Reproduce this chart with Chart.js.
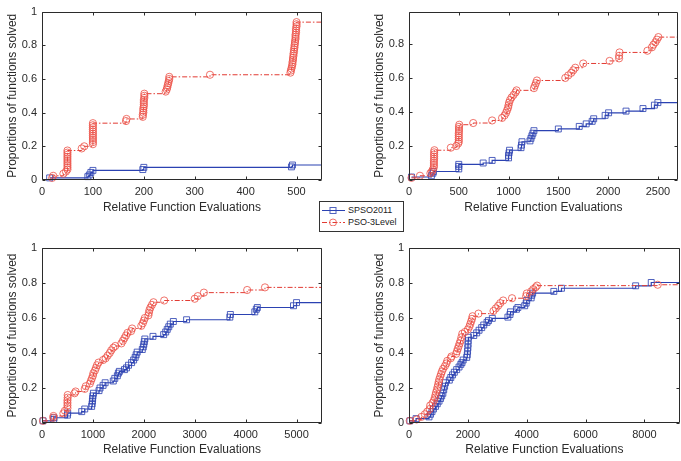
<!DOCTYPE html>
<html>
<head>
<meta charset="utf-8">
<script src="https://cdn.jsdelivr.net/npm/chart.js@4.4.1/dist/chart.umd.min.js"></script>
<style>
  html, body { margin: 0; padding: 0; background: #fff; width: 681px; height: 461px; overflow: hidden; }
  canvas { position: absolute; }
  #legend {
    position: absolute; left: 319px; top: 201px; width: 83px; height: 29px;
    border: 1px solid #333; background: #fff;
    font-family: "Liberation Sans", Arial, sans-serif; font-size: 9px; color: #222;
  }
  #legend .row { position: absolute; left: 2px; height: 10px; display: flex; align-items: center; }
  #legend svg { margin-right: 3px; }
</style>
</head>
<body>
<canvas id="c1" width="340" height="230" style="left:0;top:0"></canvas>
<canvas id="c2" width="343" height="230" style="left:340px;top:0"></canvas>
<canvas id="c3" width="340" height="231" style="left:0;top:230px"></canvas>
<canvas id="c4" width="345" height="231" style="left:340px;top:230px"></canvas>
<div id="legend"></div>
<script>
const seriesNames = ['SPSO2011', 'PSO-3Level'];
const xTitle = 'Relative Function Evaluations';
const yTitle = 'Proportions of functions solved';

// axis limits and tick labels per panel
const xMax = [550, 2700, 5500, 9200];
const yMax = [1, 0.99, 1, 1];
const xTicks = [
  [0, 100, 200, 300, 400, 500],
  [0, 500, 1000, 1500, 2000, 2500],
  [0, 1000, 2000, 3000, 4000, 5000],
  [0, 2000, 4000, 6000, 8000]
];
const yTicks = [
  [0, 0.2, 0.4, 0.6, 0.8, 1],
  [0, 0.2, 0.4, 0.6, 0.8],
  [0, 0.2, 0.4, 0.6, 0.8, 1],
  [0, 0.2, 0.4, 0.6, 0.8, 1]
];

// panel 1 (top left)
const spsoX1 = [15, 90, 93, 96, 100, 198, 200, 490, 492, 600];
const spsoY1 = [0.0125, 0.02, 0.03, 0.045, 0.057, 0.062, 0.075, 0.078, 0.089, 0.089];
const psoX1 = [20, 22, 42, 47, 50, 50, 50, 50, 50, 50, 50, 50, 50, 50, 78, 83,
  100, 100, 100, 100, 100, 100, 100, 100, 100, 100, 100, 165, 166,
  198, 198, 199, 199, 199, 200, 200, 200, 200, 201, 201, 201,
  243, 245, 246, 247, 248, 249, 250, 250, 330,
  488, 489, 490, 491, 492, 492, 493, 493, 494, 494, 495, 495, 496, 496, 497, 497,
  498, 498, 498, 499, 499, 499, 500, 500, 500, 600];
const psoY1 = [0.0125, 0.025, 0.0375, 0.05, 0.0625, 0.075, 0.0875, 0.1, 0.1125, 0.125, 0.1375, 0.15, 0.1625, 0.175, 0.1875, 0.2,
  0.2125, 0.225, 0.2375, 0.25, 0.2625, 0.275, 0.2875, 0.3, 0.3125, 0.325, 0.3375, 0.35, 0.3625,
  0.375, 0.3875, 0.4, 0.4125, 0.425, 0.4375, 0.45, 0.4625, 0.475, 0.4875, 0.5, 0.5125,
  0.525, 0.5375, 0.55, 0.5625, 0.575, 0.5875, 0.6, 0.6125, 0.625,
  0.6375, 0.65, 0.6625, 0.675, 0.6875, 0.7, 0.7125, 0.725, 0.7375, 0.75, 0.7625, 0.775, 0.7875, 0.8, 0.8125, 0.825,
  0.8375, 0.85, 0.8625, 0.875, 0.8875, 0.9, 0.9125, 0.925, 0.9375, 0.9375];

// panel 2 (top right)
const spsoX2 = [25, 225, 240, 245, 500, 500, 500, 745, 835, 1000, 1000, 1005, 1010, 1125, 1130, 1135,
  1215, 1225, 1235, 1245, 1255, 1500, 1710, 1780, 1840, 1855, 1970, 2005, 2180, 2350, 2465, 2500, 3000];
const spsoY2 = [0.0175, 0.025, 0.04, 0.05, 0.065, 0.08, 0.092, 0.1, 0.115, 0.13, 0.145, 0.16, 0.175, 0.19, 0.205, 0.225,
  0.23, 0.245, 0.26, 0.275, 0.29, 0.3, 0.315, 0.33, 0.345, 0.36, 0.38, 0.395, 0.405, 0.42, 0.44, 0.455, 0.455];
const psoX2 = [25, 110, 215, 230, 240, 250, 250, 250, 250, 252, 252, 252, 252, 255, 420, 475,
  495, 500, 500, 500, 500, 500, 502, 502, 502, 505, 645, 835,
  935, 960, 975, 985, 995, 1000, 1005, 1015, 1030, 1050, 1070, 1080,
  1255, 1265, 1275, 1285, 1570, 1600, 1630, 1650, 1670, 1750, 2015, 2110, 2110, 2115,
  2395, 2440, 2455, 2475, 2490, 2505, 3000];
const psoY2 = [0.0125, 0.025, 0.04, 0.05, 0.0625, 0.075, 0.0875, 0.1, 0.1125, 0.125, 0.1375, 0.15, 0.1625, 0.175, 0.19, 0.2,
  0.215, 0.225, 0.2375, 0.25, 0.2625, 0.275, 0.2875, 0.3, 0.3125, 0.325, 0.335, 0.35,
  0.365, 0.38, 0.395, 0.41, 0.425, 0.44, 0.455, 0.47, 0.485, 0.5, 0.515, 0.527,
  0.54, 0.555, 0.57, 0.585, 0.6, 0.615, 0.63, 0.645, 0.66, 0.685, 0.7, 0.715, 0.73, 0.75,
  0.76, 0.78, 0.795, 0.81, 0.825, 0.84, 0.84];

// panel 3 (bottom left)
const spsoX3 = [20, 230, 235, 500, 505, 780, 840, 975, 985, 990, 995, 1000, 1010, 1120, 1140, 1200, 1240,
  1400, 1430, 1480, 1500, 1520, 1620, 1660, 1700, 1760, 1800, 1830, 1850, 1870,
  1970, 1990, 2000, 2010, 2020, 2180, 2390, 2430, 2460, 2490, 2520, 2580, 2840,
  3690, 3700, 4180, 4210, 4230, 4940, 5000, 6000];
const spsoY3 = [0.0125, 0.02, 0.03, 0.045, 0.057, 0.065, 0.08, 0.095, 0.11, 0.125, 0.14, 0.155, 0.17, 0.185, 0.2, 0.215, 0.23,
  0.24, 0.255, 0.27, 0.285, 0.295, 0.305, 0.315, 0.33, 0.345, 0.36, 0.375, 0.39, 0.405,
  0.42, 0.435, 0.45, 0.465, 0.48, 0.495, 0.505, 0.52, 0.535, 0.55, 0.565, 0.58, 0.59,
  0.605, 0.62, 0.635, 0.65, 0.66, 0.67, 0.688, 0.688];
const psoX3 = [20, 220, 225, 420, 450, 500, 500, 500, 500, 505, 505, 640, 660, 840, 860,
  940, 960, 980, 1000, 1010, 1040, 1060, 1080, 1110, 1200, 1250, 1290, 1330, 1360, 1400, 1440,
  1560, 1590, 1620, 1650, 1680, 1750, 1770, 1950, 1980, 2000, 2020, 2090, 2100, 2110, 2130, 2160, 2190,
  2400, 3000, 3060, 3180, 4030, 4380, 6000];
const psoY3 = [0.0125, 0.03, 0.04, 0.055, 0.07, 0.085, 0.1, 0.115, 0.13, 0.145, 0.16, 0.17, 0.18, 0.195, 0.21,
  0.225, 0.24, 0.255, 0.27, 0.285, 0.3, 0.315, 0.33, 0.345, 0.36, 0.37, 0.385, 0.4, 0.415, 0.43, 0.44,
  0.455, 0.47, 0.485, 0.5, 0.515, 0.525, 0.54, 0.555, 0.57, 0.585, 0.6, 0.615, 0.63, 0.645, 0.66, 0.675, 0.69,
  0.7, 0.71, 0.725, 0.745, 0.76, 0.775, 0.775];

// panel 4 (bottom right)
const spsoX4 = [30, 240, 680, 730, 780, 830, 900, 960, 1020, 1070, 1110, 1150, 1180, 1210, 1240,
  1370, 1420, 1480, 1540, 1620, 1700, 1760, 1800, 1840, 1960, 1980, 1990, 2000, 2005, 2010, 2020,
  2200, 2300, 2380, 2470, 2540, 2650, 2700, 2830, 3360, 3430, 3450, 3650, 3700, 3930, 3980, 4000,
  4150, 4170, 4200, 4920, 5180, 7700, 8230, 10000];
const spsoY4 = [0.0125, 0.025, 0.035, 0.05, 0.065, 0.08, 0.095, 0.11, 0.125, 0.14, 0.155, 0.17, 0.19, 0.21, 0.23,
  0.245, 0.26, 0.275, 0.29, 0.305, 0.32, 0.335, 0.345, 0.36, 0.375, 0.39, 0.41, 0.43, 0.45, 0.47, 0.49,
  0.5, 0.515, 0.53, 0.545, 0.56, 0.575, 0.585, 0.598, 0.605, 0.62, 0.635, 0.65, 0.66, 0.67, 0.685, 0.7,
  0.715, 0.73, 0.742, 0.752, 0.77, 0.784, 0.803, 0.803];
const psoX4 = [25, 260, 420, 540, 620, 700, 720, 800, 850, 880, 900, 920, 950, 970, 990, 1010, 1030, 1060, 1090,
  1120, 1160, 1220, 1270, 1300, 1420, 1440, 1600, 1630, 1660, 1690, 1720, 1750, 1780, 1810,
  1900, 2000, 2050, 2080, 2110, 2140, 2160, 2360, 2870, 2950, 3030, 3100, 3200, 3500,
  3980, 4000, 4150, 4220, 4300, 4350, 8450, 10000];
const psoY4 = [0.0125, 0.02, 0.035, 0.05, 0.065, 0.08, 0.1, 0.115, 0.13, 0.145, 0.16, 0.175, 0.19, 0.205, 0.22, 0.235, 0.25, 0.265, 0.28,
  0.295, 0.31, 0.325, 0.34, 0.355, 0.37, 0.38, 0.395, 0.41, 0.425, 0.44, 0.455, 0.47, 0.49, 0.51,
  0.52, 0.535, 0.55, 0.565, 0.58, 0.595, 0.61, 0.625, 0.64, 0.655, 0.67, 0.685, 0.7, 0.713,
  0.725, 0.74, 0.752, 0.765, 0.775, 0.785, 0.79, 0.79];

const blue = '#2b42b2';
const blueMark = 'rgba(50, 72, 180, 0.85)';
const red = '#e23b33';
const redMark = 'rgba(236, 80, 70, 0.8)';
const axisColor = '#2b2b2b';
const fontFamily = '"Liberation Sans", Arial, Helvetica, sans-serif';
const dashDot = [5, 2, 1.5, 2];
// let markers spill over the bottom/left axes but cut lines at the right edge
const markClip = { left: 6, top: 6, bottom: 6, right: 0 };

function toPoints(xs, ys) {
  return xs.map((x, i) => ({ x: x, y: ys[i] }));
}

// box with inward ticks on all four sides, like matlab axes
const framePlugin = {
  id: 'frame',
  afterDatasetsDraw(chart) {
    const { ctx, chartArea, scales } = chart;
    const L = Math.round(chartArea.left) + 0.5;
    const R = Math.round(chartArea.right) - 0.5;
    const T = Math.round(chartArea.top) + 0.5;
    const B = Math.round(chartArea.bottom) - 0.5;
    ctx.save();
    ctx.strokeStyle = axisColor;
    ctx.lineWidth = 1;
    ctx.beginPath();
    ctx.rect(L, T, R - L, B - T);
    scales.x.ticks.forEach(t => {
      const px = Math.round(scales.x.getPixelForValue(t.value)) + 0.5;
      ctx.moveTo(px, B); ctx.lineTo(px, B - 3);
      ctx.moveTo(px, T); ctx.lineTo(px, T + 3);
    });
    scales.y.ticks.forEach(t => {
      const py = Math.round(scales.y.getPixelForValue(t.value)) + 0.5;
      ctx.moveTo(L, py); ctx.lineTo(L + 3, py);
      ctx.moveTo(R, py); ctx.lineTo(R - 3, py);
    });
    ctx.stroke();
    ctx.restore();
  }
};

function makePanel(id, i, spso, pso, box) {
  const tickFont = { family: fontFamily, size: 11 };
  const titleFont = { family: fontFamily, size: 12 };
  return new Chart(document.getElementById(id), {
    type: 'line',
    data: {
      datasets: [
        {
          label: seriesNames[1],
          data: pso,
          stepped: 'before',
          borderColor: red,
          borderWidth: 1,
          borderDash: dashDot,
          pointStyle: 'circle',
          pointRadius: 3.6,
          pointBorderWidth: 1,
          pointBorderColor: redMark,
          pointBackgroundColor: 'rgba(0,0,0,0)',
          clip: markClip
        },
        {
          label: seriesNames[0],
          data: spso,
          stepped: 'before',
          borderColor: blue,
          borderWidth: 1.2,
          pointStyle: 'rect',
          pointRadius: 4.2,
          pointBorderWidth: 1,
          pointBorderColor: blueMark,
          pointBackgroundColor: 'rgba(0,0,0,0)',
          clip: markClip
        }
      ]
    },
    options: {
      responsive: false,
      animation: false,
      events: [],
      layout: { padding: { top: box.top, right: box.right, bottom: 0, left: 0 } },
      plugins: { legend: { display: false }, tooltip: { enabled: false } },
      scales: {
        x: {
          type: 'linear',
          min: 0,
          max: xMax[i],
          grid: { display: false, drawTicks: false },
          border: { display: false },
          afterBuildTicks(scale) { scale.ticks = xTicks[i].map(v => ({ value: v })); },
          ticks: { autoSkip: false, maxRotation: 0, padding: 5, color: axisColor, font: tickFont,
                   callback: v => String(v) },
          title: { display: true, text: xTitle, color: axisColor, font: titleFont,
                   padding: { top: 0, bottom: box.xTitlePad } },
          afterFit(scale) { scale.height = box.xHeight; }
        },
        y: {
          type: 'linear',
          min: 0,
          max: yMax[i],
          grid: { display: false, drawTicks: false },
          border: { display: false },
          afterBuildTicks(scale) { scale.ticks = yTicks[i].map(v => ({ value: v })); },
          ticks: { autoSkip: false, padding: 5, color: axisColor, font: tickFont,
                   callback: v => String(v) },
          title: { display: true, text: yTitle, color: axisColor, font: titleFont,
                   padding: { top: box.yTitlePad, bottom: 0 } },
          afterFit(scale) { scale.width = box.yWidth; }
        }
      }
    },
    plugins: [framePlugin]
  });
}

makePanel('c1', 0, toPoints(spsoX1, spsoY1), toPoints(psoX1, psoY1),
  { top: 5, right: 18, xHeight: 50, yWidth: 42, xTitlePad: 15, yTitlePad: 5 });
makePanel('c2', 1, toPoints(spsoX2, spsoY2), toPoints(psoX2, psoY2),
  { top: 5, right: 0, xHeight: 50, yWidth: 69, xTitlePad: 15, yTitlePad: 32 });
makePanel('c3', 2, toPoints(spsoX3, spsoY3), toPoints(psoX3, psoY3),
  { top: 18, right: 18, xHeight: 38, yWidth: 42, xTitlePad: 4, yTitlePad: 5 });
makePanel('c4', 3, toPoints(spsoX4, spsoY4), toPoints(psoX4, psoY4),
  { top: 18, right: 0, xHeight: 38, yWidth: 69, xTitlePad: 4, yTitlePad: 32 });

// legend between the panels
const legend = document.getElementById('legend');
const glyphs = [
  '<svg width="23" height="8"><line x1="0" y1="4.5" x2="23" y2="4.5" stroke="' + blue + '" stroke-width="1"/>' +
    '<rect x="8" y="1.5" width="6" height="6" fill="none" stroke="' + blueMark + '"/></svg>',
  '<svg width="23" height="8"><line x1="0" y1="4.5" x2="23" y2="4.5" stroke="' + red + '" stroke-width="1" stroke-dasharray="' + dashDot.join(' ') + '"/>' +
    '<circle cx="11" cy="4.5" r="3.5" fill="none" stroke="' + redMark + '"/></svg>'
];
seriesNames.forEach((name, k) => {
  const row = document.createElement('div');
  row.className = 'row';
  row.style.top = (3 + k * 12) + 'px';
  row.innerHTML = glyphs[k] + '<span>' + name + '</span>';
  legend.appendChild(row);
});
</script>
</body>
</html>
